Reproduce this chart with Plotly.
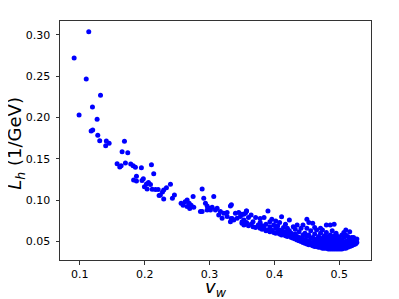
import plotly.graph_objects as go

# Sparse part of the scatter (read point by point)
vw_sparse = [0.0914, 0.0990, 0.1100, 0.1139, 0.1196, 0.1268, 0.1320, 0.1176, 0.1200, 0.1278,
             0.1308, 0.1410, 0.1453, 0.1400, 0.1689, 0.1653, 0.1740, 0.1576, 0.1617, 0.1638,
             0.1704, 0.1786, 0.1823, 0.1858, 0.1950, 0.2105, 0.2140, 0.1874, 0.1830, 0.1874,
             0.1980, 0.1960, 0.2059, 0.2028, 0.2090, 0.1997, 0.2038, 0.2116, 0.2166, 0.2208,
             0.2223, 0.2294, 0.2336, 0.2398, 0.2275, 0.2243, 0.2294, 0.2459, 0.2428, 0.2562,
             0.2593, 0.2624, 0.2655, 0.2686, 0.2716, 0.2747, 0.2757, 0.2695, 0.2655, 0.2886,
             0.2911, 0.2937, 0.2963, 0.2988, 0.2886, 0.3014, 0.3040, 0.3065, 0.3117, 0.3168,
             0.3219, 0.3271, 0.3322, 0.3333, 0.3373, 0.3425, 0.3450, 0.2860, 0.2963, 0.3091,
             0.3142, 0.3194, 0.3271, 0.3322, 0.3399, 0.3476, 0.3553, 0.3337, 0.3348, 0.3502,
             0.3527, 0.3569]
lh_sparse = [0.2720, 0.2030, 0.2465, 0.3036, 0.2127, 0.1978, 0.2270, 0.1837, 0.1849, 0.1785,
             0.1720, 0.1716, 0.1688, 0.1660, 0.1712, 0.1587, 0.1575, 0.1442, 0.1402, 0.1418,
             0.1450, 0.1438, 0.1418, 0.1398, 0.1394, 0.1430, 0.1320, 0.1290, 0.1245, 0.1233,
             0.1260, 0.1237, 0.1213, 0.1197, 0.1190, 0.1164, 0.1137, 0.1133, 0.1128, 0.1128,
             0.1056, 0.1124, 0.1152, 0.1193, 0.1100, 0.1064, 0.1016, 0.1064, 0.1024, 0.0964,
             0.0940, 0.0980, 0.1004, 0.0964, 0.0940, 0.1044, 0.0915, 0.0899, 0.0923, 0.1136,
             0.1024, 0.0964, 0.0931, 0.0903, 0.0862, 0.0883, 0.0915, 0.1044, 0.0903, 0.0862,
             0.0843, 0.0850, 0.0931, 0.0780, 0.0762, 0.0782, 0.0850, 0.0862, 0.0883, 0.0883,
             0.0822, 0.0782, 0.0802, 0.0741, 0.0843, 0.0802, 0.0843, 0.0944, 0.0780, 0.0741,
             0.0831, 0.0870]

# Dense part: v_w columns and the L_h values read in each column
vw_dense = [0.350, 0.353, 0.357, 0.360, 0.364, 0.367, 0.371, 0.375, 0.378, 0.381,
            0.384, 0.387, 0.390, 0.393, 0.396, 0.399, 0.402, 0.405, 0.408, 0.411,
            0.414, 0.417, 0.420, 0.423, 0.426, 0.429, 0.432, 0.435, 0.438, 0.441,
            0.444, 0.447, 0.450, 0.453, 0.456, 0.459, 0.462, 0.465, 0.468, 0.471,
            0.474, 0.477, 0.480, 0.483, 0.486, 0.489, 0.492, 0.495, 0.498, 0.501,
            0.504, 0.507, 0.510, 0.513, 0.516, 0.519, 0.522, 0.525, 0.527]
lh_dense = [
    [0.072, 0.083], [0.070, 0.076], [0.073, 0.087], [0.069, 0.079],
    [0.071, 0.082], [0.068, 0.074], [0.067, 0.079], [0.070],
    [0.066, 0.073, 0.078], [0.065, 0.069], [0.067, 0.079], [0.063, 0.071],
    [0.064, 0.087], [0.062, 0.068, 0.074], [0.064, 0.077], [0.061, 0.070],
    [0.060, 0.066, 0.075], [0.062, 0.069], [0.059, 0.064, 0.073], [0.058, 0.063, 0.080],
    [0.060, 0.067], [0.057, 0.062, 0.071], [0.056, 0.060, 0.066], [0.058, 0.063, 0.076],
    [0.055, 0.060], [0.054, 0.058, 0.068], [0.053, 0.059, 0.065], [0.052, 0.056, 0.070],
    [0.051, 0.055, 0.062], [0.050, 0.054, 0.066], [0.049, 0.053, 0.058, 0.070],
    [0.048, 0.052, 0.060], [0.047, 0.051, 0.056, 0.066, 0.077],
    [0.046, 0.050, 0.058, 0.073], [0.046, 0.049, 0.054, 0.063],
    [0.045, 0.049, 0.055, 0.072], [0.044, 0.048, 0.052, 0.059, 0.067],
    [0.044, 0.047, 0.053, 0.064], [0.043, 0.046, 0.050, 0.056],
    [0.043, 0.047, 0.052, 0.060, 0.066], [0.042, 0.045, 0.049, 0.054, 0.064],
    [0.042, 0.046, 0.051, 0.057], [0.042, 0.044, 0.048, 0.053, 0.061, 0.070],
    [0.041, 0.045, 0.050, 0.056], [0.041, 0.043, 0.047, 0.052, 0.058, 0.070],
    [0.041, 0.044, 0.049, 0.054, 0.063], [0.041, 0.043, 0.046, 0.051, 0.057, 0.071],
    [0.041, 0.044, 0.048, 0.053, 0.060], [0.041, 0.043, 0.046, 0.050, 0.056],
    [0.041, 0.044, 0.048, 0.053], [0.041, 0.043, 0.046, 0.051, 0.058],
    [0.042, 0.045, 0.049, 0.055, 0.061], [0.042, 0.045, 0.050, 0.058, 0.064],
    [0.043, 0.046, 0.051, 0.056], [0.044, 0.047, 0.053, 0.062],
    [0.045, 0.049, 0.055], [0.046, 0.050, 0.055], [0.047, 0.052],
    [0.049, 0.053],
]

x_ticks = [0.1, 0.2, 0.3, 0.4, 0.5]
x_ticktext = ["0.1", "0.2", "0.3", "0.4", "0.5"]
y_ticks = [0.05, 0.10, 0.15, 0.20, 0.25, 0.30]
y_ticktext = ["0.05", "0.10", "0.15", "0.20", "0.25", "0.30"]
x_title = "<i>v</i><sub><i>w</i></sub>"
y_title = "<i>L</i><sub><i>h</i></sub> (1/GeV)"

vw = list(vw_sparse)
lh = list(lh_sparse)
for xv, col in zip(vw_dense, lh_dense):
    for yv in col:
        vw.append(xv)
        lh.append(yv)

font = "DejaVu Sans"
fig = go.Figure(go.Scatter(
    x=vw, y=lh, mode="markers",
    marker=dict(color="#0000ff", size=5, line=dict(width=0)),
))

axis_common = dict(
    showgrid=False, zeroline=False, showline=True, linecolor="#333333", linewidth=1,
    mirror=True, ticks="outside", ticklen=3.5, tickwidth=1, tickcolor="#333333",
    tickfont=dict(family=font, size=11, color="black"), automargin=False,
)

# The page body has an 8px default margin, so the figure is sized/offset for it.
fig.update_layout(
    width=391, height=291,
    margin=dict(l=52, r=28, t=13, b=39, autoexpand=False),
    paper_bgcolor="white", plot_bgcolor="white",
    showlegend=False,
    xaxis=dict(range=[0.0696, 0.5488], tickvals=x_ticks, ticktext=x_ticktext, **axis_common),
    yaxis=dict(range=[0.0277, 0.3167], tickvals=y_ticks, ticktext=y_ticktext,
               ticklabelstandoff=3, **axis_common),
    annotations=[
        dict(text=x_title, xref="paper", yref="paper", x=0.5, y=-0.06,
             xanchor="center", yanchor="top", showarrow=False,
             font=dict(family=font, size=18, color="black")),
        dict(text=y_title, xref="paper", yref="paper", x=-0.142, y=0.49,
             xanchor="center", yanchor="middle", textangle=-90, showarrow=False,
             font=dict(family=font, size=18, color="black")),
    ],
)

fig.write_html("out.html")
